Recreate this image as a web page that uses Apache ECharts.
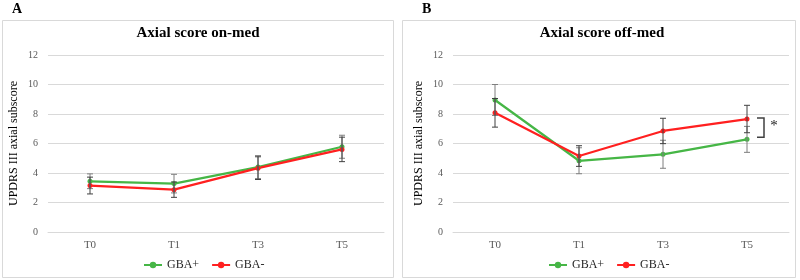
<!DOCTYPE html>
<html>
<head>
<meta charset="utf-8">
<script src="https://cdn.jsdelivr.net/npm/echarts@6/dist/echarts.min.js"></script>
<style>
html, body { margin: 0; padding: 0; background: #fff; }
#main { width: 800px; height: 280px; }
</style>
</head>
<body>
<div id="main"></div>
<script>
var categories = ['T0', 'T1', 'T3', 'T5'];
var yMax = 12;
var yInterval = 2;

// panel A, on-med
var onMedGbaPos = [3.44, 3.28, 4.40, 5.78];
var onMedGbaPosErr = [0.50, 0.63, 0.78, 0.78];
var onMedGbaNeg = [3.15, 2.87, 4.33, 5.60];
var onMedGbaNegErr = [0.57, 0.52, 0.77, 0.83];

// panel B, off-med
var offMedGbaPos = [8.95, 4.83, 5.27, 6.28];
var offMedGbaPosErr = [1.05, 0.88, 0.95, 0.88];
var offMedGbaNeg = [8.08, 5.15, 6.85, 7.66];
var offMedGbaNegErr = [0.97, 0.70, 0.86, 0.93];

// significance at T5 (off-med)
var sigIndex = 3;
var sigRange = [7.73, 6.42];

var green = '#46b646';
var red = '#ff2020';
var serif = '"Liberation Serif", "Times New Roman", serif';

function errData(vals, errs) {
	var out = [];
	for (var i = 0; i < vals.length; i++) {
		out.push([i, vals[i], errs[i]]);
	}
	return out;
}

function errorBarItem(color) {
	return function (params, api) {
		var x = api.value(0), v = api.value(1), e = api.value(2);
		var top = api.coord([x, v + e]);
		var bot = api.coord([x, v - e]);
		var w = 3;
		var st = { stroke: color, lineWidth: 1 };
		return {
			type: 'group',
			children: [
				{ type: 'line', shape: { x1: top[0], y1: top[1], x2: bot[0], y2: bot[1] }, style: st },
				{ type: 'line', shape: { x1: top[0] - w, y1: top[1], x2: top[0] + w, y2: top[1] }, style: st },
				{ type: 'line', shape: { x1: bot[0] - w, y1: bot[1], x2: bot[0] + w, y2: bot[1] }, style: st }
			]
		};
	};
}

function bracketItem(params, api) {
	var p1 = api.coord([api.value(0), api.value(1)]);
	var p2 = api.coord([api.value(0), api.value(2)]);
	var x0 = p1[0] + 10, x1 = p1[0] + 17;
	var st = { stroke: '#404040', lineWidth: 1.5, fill: null };
	return {
		type: 'group',
		children: [
			{ type: 'polyline', shape: { points: [[x0, p1[1]], [x1, p1[1]], [x1, p2[1]], [x0, p2[1]]] }, style: st },
			{ type: 'text', x: x1 + 10, y: (p1[1] + p2[1]) / 2 - 2, style: { text: '*', fill: '#222', font: '15px ' + serif, align: 'center', verticalAlign: 'middle' } }
		]
	};
}

function xAxisFor(gi) {
	return {
		type: 'category',
		gridIndex: gi,
		data: categories,
		axisTick: { show: false },
		axisLine: { lineStyle: { color: '#d9d9d9' } },
		axisLabel: { color: '#595959', fontSize: 11, fontFamily: serif, margin: 8 }
	};
}

function yAxisFor(gi) {
	return {
		type: 'value',
		gridIndex: gi,
		min: 0,
		max: yMax,
		interval: yInterval,
		name: 'UPDRS III axial subscore',
		nameLocation: 'middle',
		nameGap: 28,
		nameTextStyle: { color: '#000', fontSize: 12, fontWeight: 'normal', fontFamily: serif },
		axisLine: { show: false },
		axisTick: { show: false },
		splitLine: { lineStyle: { color: '#d9d9d9' } },
		axisLabel: { color: '#595959', fontSize: 10, fontFamily: serif, margin: 10 }
	};
}

function lineSeries(name, gi, data, color) {
	return {
		name: name,
		type: 'line',
		xAxisIndex: gi,
		yAxisIndex: gi,
		data: data,
		symbol: 'circle',
		symbolSize: 5,
		itemStyle: { color: color },
		lineStyle: { color: color, width: 2.25 },
		z: 3
	};
}

function errSeries(gi, vals, errs, color) {
	return {
		type: 'custom',
		xAxisIndex: gi,
		yAxisIndex: gi,
		data: errData(vals, errs),
		renderItem: errorBarItem(color),
		z: 4,
		silent: true
	};
}

var myChart = echarts.init(document.getElementById('main'));
var option = {
	animation: false,
	backgroundColor: '#fff',
	title: [
		{ text: 'Axial score on-med', left: 198, top: 26, textAlign: 'center', padding: 0,
			textStyle: { fontFamily: serif, fontSize: 15, fontWeight: 'bold', color: '#000' } },
		{ text: 'Axial score off-med', left: 602, top: 26, textAlign: 'center', padding: 0,
			textStyle: { fontFamily: serif, fontSize: 15, fontWeight: 'bold', color: '#000' } }
	],
	graphic: [
		{ type: 'rect', shape: { x: 2.5, y: 20.5, width: 391, height: 257 }, style: { fill: null, stroke: '#d9d9d9', lineWidth: 1 }, silent: true },
		{ type: 'rect', shape: { x: 402.5, y: 20.5, width: 393, height: 257 }, style: { fill: null, stroke: '#d9d9d9', lineWidth: 1 }, silent: true },
		{ type: 'text', left: 12, top: 2, style: { text: 'A', font: 'bold 14px ' + serif, fill: '#000' } },
		{ type: 'text', left: 422, top: 2, style: { text: 'B', font: 'bold 14px ' + serif, fill: '#000' } }
	],
	legend: [
		{ data: ['GBA+', 'GBA-'], left: 143, top: 259, itemWidth: 18, itemHeight: 8, itemGap: 12, padding: 0,
			textStyle: { fontFamily: serif, fontSize: 12, color: '#262626' } },
		{ data: ['GBA+', 'GBA-'], left: 548, top: 259, itemWidth: 18, itemHeight: 8, itemGap: 12, padding: 0,
			textStyle: { fontFamily: serif, fontSize: 12, color: '#262626' } }
	],
	grid: [
		{ left: 48, top: 55, width: 336, height: 177 },
		{ left: 453, top: 55, width: 336, height: 177 }
	],
	xAxis: [xAxisFor(0), xAxisFor(1)],
	yAxis: [yAxisFor(0), yAxisFor(1)],
	series: [
		lineSeries('GBA+', 0, onMedGbaPos, green),
		lineSeries('GBA-', 0, onMedGbaNeg, red),
		errSeries(0, onMedGbaPos, onMedGbaPosErr, '#7f7f7f'),
		errSeries(0, onMedGbaNeg, onMedGbaNegErr, '#404040'),
		lineSeries('GBA+', 1, offMedGbaPos, green),
		lineSeries('GBA-', 1, offMedGbaNeg, red),
		errSeries(1, offMedGbaPos, offMedGbaPosErr, '#7f7f7f'),
		errSeries(1, offMedGbaNeg, offMedGbaNegErr, '#404040'),
		{
			type: 'custom',
			xAxisIndex: 1,
			yAxisIndex: 1,
			data: [[sigIndex, sigRange[0], sigRange[1]]],
			renderItem: bracketItem,
			silent: true,
			z: 5
		}
	]
};
myChart.setOption(option);
</script>
</body>
</html>
